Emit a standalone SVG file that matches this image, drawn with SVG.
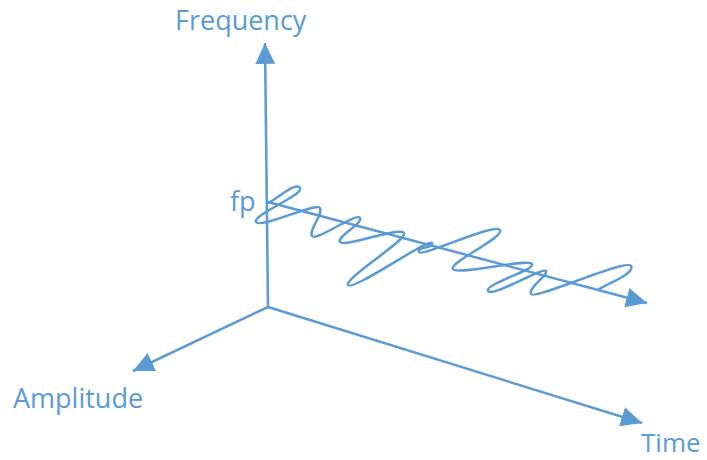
<svg xmlns="http://www.w3.org/2000/svg" width="707" height="460" viewBox="0 0 707 460">
<style>
.ax{stroke:#5B9BD5;stroke-width:2.5;fill:none}
.lbl{fill:#5B9BD5;font-family:"Open Sans","Liberation Sans",sans-serif;font-size:27px}
</style>
<defs>
<marker id="ah" markerUnits="userSpaceOnUse" markerWidth="22" markerHeight="22" viewBox="0 0 20 20" refX="19" refY="10" orient="auto">
<path d="M0,1 L19,10 L0,19 Z" fill="#5B9BD5"/>
</marker>
</defs>
<rect width="707" height="460" fill="#fff"/>
<g id="connectors">
<line id="freq-axis" class="ax" x1="268" y1="307" x2="265" y2="43" marker-end="url(#ah)"/>
<line id="amp-axis" class="ax" x1="268" y1="307" x2="133" y2="371" marker-end="url(#ah)"/>
<line id="time-axis" class="ax" x1="268" y1="307" x2="642" y2="423" marker-end="url(#ah)"/>
<line id="signal-axis" class="ax" x1="268" y1="202" x2="647" y2="303" marker-end="url(#ah)"/>
</g>
<g id="wave">
<path class="ax" stroke-linejoin="round" stroke-linecap="round" d="M268,203 C277,199 296.2,181 300,188 C303.8,195 252.2,215 256,222 C259.8,229 316.7,201.8 320,208 C323.3,214.2 308.7,229.8 312,236 C315.3,242.2 356.7,211.8 360,218 C363.3,224.2 336.7,235.8 340,242 C343.3,248.2 400.2,226 404,233 C407.8,240 344.2,278 348,285 C351.8,292 429.2,237.7 432,243 C434.8,248.3 416.2,246.7 419,252 C421.8,257.3 495.8,222.1 500,230 C504.2,237.9 449.2,262 453,269 C456.8,276 528.7,257.8 532,264 C535.3,270.2 484.2,284 488,291 C491.8,298 543.65,266.6 546,271 C548.35,275.4 527.7,287.8 531,294 C534.3,300.2 626.8,258.1 631,266 C635.2,273.9 606,284 598,290"/>
</g>
<g id="frequency-label"><text class="lbl" x="175" y="30">Frequency</text></g>
<g id="fp-label"><text class="lbl" x="230" y="211">fp</text></g>
<g id="amplitude-label"><text class="lbl" x="13" y="408">Amplitude</text></g>
<g id="time-label"><text class="lbl" x="641" y="452" style="font-size:26px">Time</text></g>
</svg>
